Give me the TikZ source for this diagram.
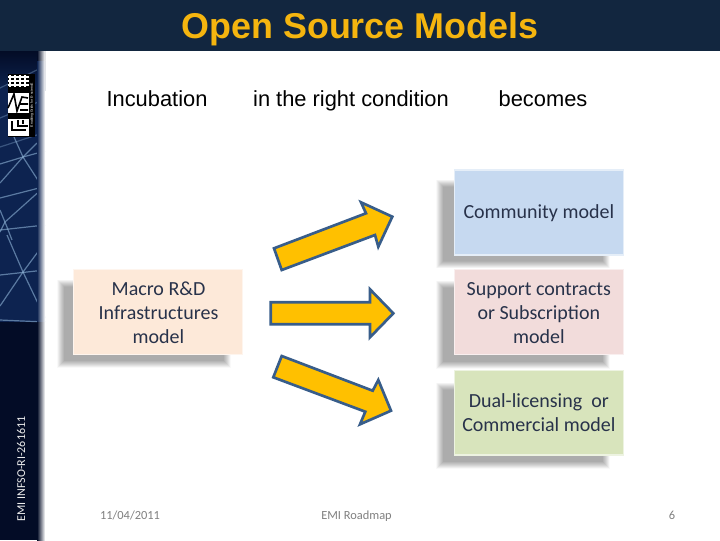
\documentclass[tikz,border=0pt]{standalone}
\usepackage{fontspec}
\setmainfont{Liberation Sans}
\newfontfamily\bodyfont{Carlito}
\usetikzlibrary{calc}
\definecolor{band}{HTML}{12263F}
\definecolor{titlecol}{HTML}{F5B50F}
\definecolor{navy}{HTML}{0D2350}
\definecolor{deep}{HTML}{030C26}
\definecolor{gridline}{HTML}{8FB4D8}
\definecolor{arrowfill}{HTML}{FFC000}
\definecolor{arrowline}{HTML}{385D8A}
\definecolor{boxblue}{HTML}{C6D9F0}
\definecolor{boxpeach}{HTML}{FDE9D9}
\definecolor{boxpink}{HTML}{F2DCDB}
\definecolor{boxgreen}{HTML}{D8E4BC}
\definecolor{bodytext}{HTML}{28324A}
\definecolor{foot}{HTML}{808080}
\tikzset{
 x=0.75pt,y=-0.75pt,
 heading/.style={font=\fontsize{16.4}{18}\selectfont,text=black,anchor=base},
 modelbox/.style={font=\bodyfont\fontsize{15}{18}\selectfont,text=bodytext,align=center,anchor=center,inner sep=0pt},
 footer/.style={font=\bodyfont\fontsize{9.3}{12}\selectfont,text=foot,anchor=base},
 bigarrow/.style={fill=arrowfill,draw=arrowline,line width=2pt,line join=miter},
 gridstroke/.style={draw=gridline,line width=0.9pt,opacity=0.6},
 softbox/.style={fill=#1,draw=#1!45!white,line width=0.9pt},
}
\newcommand{\softshadow}[4]{%
 \foreach \d in {3.5,3,...,-3.5}{
  \fill[black,opacity=0.025] ($(#1,#2)+(-\d,-\d)$) rectangle ($(#3,#4)+(\d,\d)$);
 }}
\begin{document}
\begin{tikzpicture}
\useasboundingbox (0,0) rectangle (720,540);
\fill[white] (0,0) rectangle (720,540);
% side bar
\fill[navy] (0,51) rectangle (45,322);
\fill[deep] (0,322) rectangle (45,540);
\shade[top color=deep,bottom color=navy] (0,51) rectangle (45,90);
\begin{scope}
\clip (0,60) rectangle (45,322);
\draw[gridstroke,opacity=0.35] (0,88) -- (43,67);
\draw[gridstroke,opacity=0.35] (0,147) -- (43,133);
\draw[gridstroke,opacity=0.35] (0,118) -- (43,100);
\draw[gridstroke] (0,164) -- (23,157) -- (45,151);
\draw[gridstroke] (10,128) -- (23,157) -- (43,188);
\draw[gridstroke] (0,183) -- (23,157) -- (37,143);
\draw[gridstroke] (0,198) -- (43,187);
\draw[gridstroke] (0,232) -- (5,222) -- (43,188);
\draw[gridstroke] (0,210) -- (7,227) -- (12,240);
\draw[gridstroke] (0,230) -- (45,225);
\draw[gridstroke] (7,235) -- (23,272) -- (45,318);
\draw[gridstroke] (0,275) -- (45,270);
\draw[gridstroke] (0,306) -- (23,272) -- (43,245);
\draw[gridstroke] (0,320) -- (45,322);
\end{scope}
\shade[left color=navy,right color=white] (37,60) rectangle (45,322);
\shade[left color=deep,right color=white] (37,322) rectangle (45,540);
\shade[left color=deep,right color=white] (37,51) rectangle (45,60);
% logo
\fill[black] (8,74) rectangle (35,137);
\foreach \gx in {10,15,20,25}{\draw[white,line width=0.8pt] (\gx,75) -- (\gx,87);}
\foreach \gy in {77,81,85}{\draw[white,line width=0.8pt] (8,\gy) -- (29,\gy);}
\fill[white] (8,93) rectangle (29,113);
\fill[white] (8,119) rectangle (29,136);
\draw[black,line width=1.2pt] (8,108) -- (14,94) -- (17,111) -- (22,97) -- (28,98) (20,104) -- (28,104) (20,110) -- (28,110);
\draw[black,line width=1pt] (12,121) -- (12,130) -- (26,130) (18,120) -- (18,126) -- (28,126) (23,120) -- (23,124);
\node[rotate=90,font=\fontsize{2.6}{3}\selectfont,text=white,inner sep=0pt] (logotext) at (32,105) {Enabling Grids for E-sciencE};
% footer side text
\node[rotate=90,font=\bodyfont\fontsize{9}{10}\selectfont,text=white!85!gray,inner sep=0pt] (grant) at (21,469) {EMI INFSO-RI-261611};
% title band
\fill[band] (0,0) rectangle (720,51);
\node[font=\bfseries\fontsize{26.9}{30}\selectfont,text=titlecol,anchor=base] (title) at (360,38.5) {Open Source Models};
% headings
\node[heading] (h1) at (157,106) {Incubation};
\node[heading] (h2) at (351,106) {in the right condition};
\node[heading] (h3) at (543,106) {becomes};
% shadows
\softshadow{439.5}{183}{606}{264.5}
\softshadow{439.5}{284}{606}{365}
\softshadow{439.5}{386}{606}{465}
\softshadow{60.5}{283}{227}{364}
% boxes
\path[softbox=boxblue] (454.3,170) rectangle (623.3,255);
\path[softbox=boxpeach] (73.3,269.3) rectangle (242.7,354.3);
\path[softbox=boxpink] (454.3,269.3) rectangle (623.3,354.3);
\path[softbox=boxgreen] (454.3,370.7) rectangle (623.3,455);
\node[modelbox] (community) at (538.8,213) {Community model};
\node[modelbox] (macro) at (158.5,313) {Macro R\&D\\Infrastructures\\model};
\node[modelbox] (support) at (538.8,313) {Support contracts\\or Subscription\\model};
\node[modelbox] (dual) at (538.8,413) {Dual-licensing~ or\\Commercial model};
% arrows
\draw[bigarrow] (274,248.3) -- (366,213.3) -- (361,202.3) -- (392.3,216.7) -- (378.3,246.7) -- (375,235) -- (281.7,270) -- cycle;
\draw[bigarrow] (270.7,302.3) -- (370,302.3) -- (370,289.3) -- (393.3,313.3) -- (370,337.3) -- (370,324.3) -- (270.7,324.3) -- cycle;
\draw[bigarrow] (281.7,356) -- (372.7,390.7) -- (378.3,380) -- (391,410.7) -- (360,424.3) -- (365.3,411.7) -- (273.3,377.3) -- cycle;
% footers
\node[footer] (date) at (130,519) {11/04/2011};
\node[footer] (road) at (356.5,519) {EMI Roadmap};
\node[footer] (page) at (672,519) {6};
\end{tikzpicture}
\end{document}
